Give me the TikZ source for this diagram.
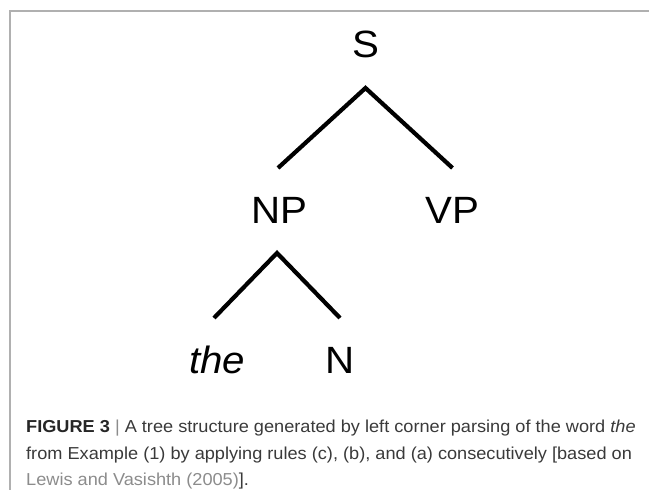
\documentclass[tikz,border=0pt]{standalone}
\usepackage{fontspec}
\setmainfont{Liberation Sans}
\newfontfamily\treefont[FakeStretch=1.06]{Liberation Sans}
\newfontfamily\capfont[FakeStretch=1.05]{Liberation Sans}
\usetikzlibrary{calc}
\definecolor{framegray}{HTML}{B0B0B0}
\definecolor{captext}{HTML}{3A3A3A}
\definecolor{linkgray}{HTML}{8C8C8C}
\tikzset{
  treelabel/.style={anchor=base, inner sep=0pt, font=\treefont\fontsize{38}{40}\selectfont, text=black},
  branch/.style={line width=4.2pt, black},
  caption/.style={anchor=base west, inner sep=0pt, font=\capfont\fontsize{17.3}{20}\selectfont, text=captext},
  frame/.style={line width=2pt, framegray}
}
\begin{document}
\begin{tikzpicture}[x=1pt,y=-1pt]
\useasboundingbox (0,0) rectangle (649,490);
\fill[white] (0,0) rectangle (649,490);
\coordinate (fb) at (9.5,490);
\coordinate (fc) at (9.5,11);
\coordinate (fr) at (649,11);
\draw[frame] (fb) -- (fc) -- (fr);

\node[treelabel] (S) at (365.5,57) {S};
\node[treelabel] (NP) at (279,223) {NP};
\node[treelabel] (VP) at (452.5,223) {VP};
\node[treelabel] (the) at (217,373) {\itshape the};
\node[treelabel] (N) at (340,373) {N};

\draw[branch] ($(NP.base)+(-1,-55)$) -- ($(S.base)+(0,31)$) -- ($(VP.base)+(0,-55)$);
\draw[branch] ($(the.base)+(-3,-55)$) -- ($(NP.base)+(-2,30)$) -- ($(N.base)+(0,-55)$);

\node[caption] (cap1) at (26,432.5) {\textbf{\color{black!85}FIGURE 3} {\color{linkgray}|} A tree structure generated by left corner parsing of the word \textit{the}};
\node[caption] (cap2) at (26,459) {from Example (1) by applying rules (c), (b), and (a) consecutively [based on};
\node[caption] (cap3) at (26,485.3) {{\color{linkgray}Lewis and Vasishth (2005)}].};
\end{tikzpicture}
\end{document}
